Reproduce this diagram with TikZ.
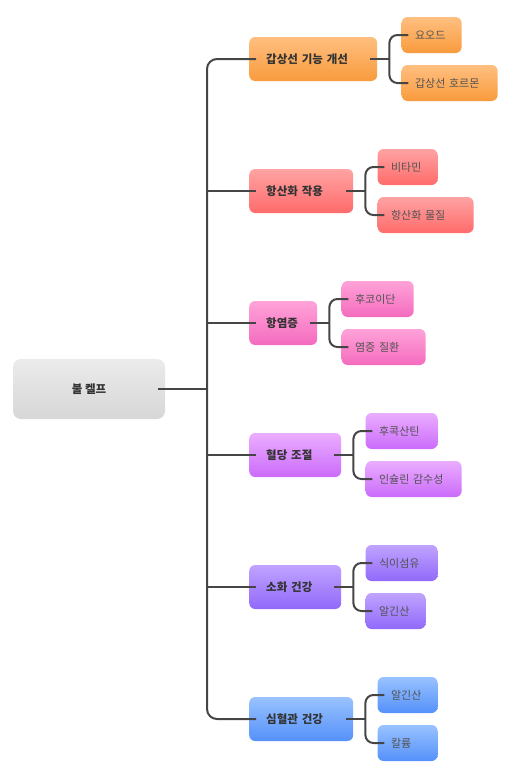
\documentclass[tikz,border=0pt]{standalone}
\usepackage{fontspec}
\setmainfont{Noto Sans CJK KR}
\usetikzlibrary{
    positioning
}

\definecolor{linkgray}{HTML}{454545}
\definecolor{textdark}{HTML}{333333}
\definecolor{textmid}{HTML}{525252}
\definecolor{grayT}{HTML}{EBEBEB}
\definecolor{grayB}{HTML}{D7D7D7}
\definecolor{orangeT}{HTML}{FFBF80}
\definecolor{orangeB}{HTML}{F99B3D}
\definecolor{redT}{HTML}{FFA3A3}
\definecolor{redB}{HTML}{FF6B6B}
\definecolor{pinkT}{HTML}{FFA3D9}
\definecolor{pinkB}{HTML}{F46BBE}
\definecolor{purpleT}{HTML}{EBADFF}
\definecolor{purpleB}{HTML}{CA6BFA}
\definecolor{lavenderT}{HTML}{C0A3FF}
\definecolor{lavenderB}{HTML}{9169FA}
\definecolor{blueT}{HTML}{99C2FF}
\definecolor{blueB}{HTML}{5591FA}

\begin{document}
\begin{tikzpicture}[x=1pt, y=-1pt,
    link/.style={draw=linkgray, line width=2pt},
    rootbox/.style={rounded corners=8pt, minimum width=152pt, minimum height=60pt,
        top color=grayT, bottom color=grayB, text=textdark,
        font=\fontsize{11.5pt}{13pt}\selectfont\bfseries},
    branch/.style={rounded corners=6pt, anchor=west, minimum height=44pt,
        inner xsep=17pt, inner ysep=0pt, align=left, text=textdark,
        font=\fontsize{11.5pt}{13pt}\selectfont\bfseries},
    leaf/.style={rounded corners=6pt, minimum height=36pt,
        inner xsep=13.5pt, inner ysep=0pt, align=left, text=textmid,
        font=\fontsize{11pt}{12pt}\selectfont},
    orangebox/.style={top color=orangeT, bottom color=orangeB},
    redbox/.style={top color=redT, bottom color=redB},
    pinkbox/.style={top color=pinkT, bottom color=pinkB},
    purplebox/.style={top color=purpleT, bottom color=purpleB},
    lavenderbox/.style={top color=lavenderT, bottom color=lavenderB},
    bluebox/.style={top color=blueT, bottom color=blueB}
]
    \useasboundingbox (0,0) rectangle (519,780);
    % fork from a branch to its two leaves
    \def\fork#1#2#3{
        \draw[link] ([xshift=-7pt]#1.east) -- ([xshift=12pt]#1.east);
        \draw[link, rounded corners=8pt] ([xshift=7pt]#2.west) -| ([xshift=12pt]#1.east) |- ([xshift=7pt]#3.west);
    }

    \node[rootbox] (root) at (89,389) {불 켈프};
    \coordinate (trunk) at (207,389);

    \node[branch, orangebox,   text width=94pt] (b1) at (249,59)  {갑상선 기능 개선};
    \node[branch, redbox,      text width=70pt] (b2) at (249,191) {항산화 작용};
    \node[branch, pinkbox,     text width=34pt] (b3) at (249,323) {항염증};
    \node[branch, purplebox,   text width=58pt] (b4) at (249,455) {혈당 조절};
    \node[branch, lavenderbox, text width=58pt] (b5) at (249,587) {소화 건강};
    \node[branch, bluebox,     text width=70pt] (b6) at (249,719) {심혈관 건강};

    \node[leaf, orangebox,   text width=33pt, right=24pt of b1.east, yshift=24pt]  (c1a) {요오드};
    \node[leaf, orangebox,   text width=69pt, right=24pt of b1.east, yshift=-24pt] (c1b) {갑상선 호르몬};
    \node[leaf, redbox,      text width=33pt, right=24pt of b2.east, yshift=24pt]  (c2a) {비타민};
    \node[leaf, redbox,      text width=69pt, right=24pt of b2.east, yshift=-24pt] (c2b) {항산화 물질};
    \node[leaf, pinkbox,     text width=45pt, right=24pt of b3.east, yshift=24pt]  (c3a) {후코이단};
    \node[leaf, pinkbox,     text width=57pt, right=24pt of b3.east, yshift=-24pt] (c3b) {염증 질환};
    \node[leaf, purplebox,   text width=45pt, right=24pt of b4.east, yshift=24pt]  (c4a) {후콕산틴};
    \node[leaf, purplebox,   text width=69pt, right=24pt of b4.east, yshift=-24pt] (c4b) {인슐린 감수성};
    \node[leaf, lavenderbox, text width=45pt, right=24pt of b5.east, yshift=24pt]  (c5a) {식이섬유};
    \node[leaf, lavenderbox, text width=33pt, right=24pt of b5.east, yshift=-24pt] (c5b) {알긴산};
    \node[leaf, bluebox,     text width=33pt, right=24pt of b6.east, yshift=24pt]  (c6a) {알긴산};
    \node[leaf, bluebox,     text width=33pt, right=24pt of b6.east, yshift=-24pt] (c6b) {칼륨};

    % trunk
    \draw[link] ([xshift=-7pt]root.east) -- (trunk);
    \draw[link, rounded corners=10pt] ([xshift=7pt]b1.west) -| (trunk) |- ([xshift=7pt]b6.west);
    \draw[link] (trunk |- b2.west) -- ([xshift=7pt]b2.west);
    \draw[link] (trunk |- b3.west) -- ([xshift=7pt]b3.west);
    \draw[link] (trunk |- b4.west) -- ([xshift=7pt]b4.west);
    \draw[link] (trunk |- b5.west) -- ([xshift=7pt]b5.west);

    \fork{b1}{c1a}{c1b}
    \fork{b2}{c2a}{c2b}
    \fork{b3}{c3a}{c3b}
    \fork{b4}{c4a}{c4b}
    \fork{b5}{c5a}{c5b}
    \fork{b6}{c6a}{c6b}
\end{tikzpicture}
\end{document}
